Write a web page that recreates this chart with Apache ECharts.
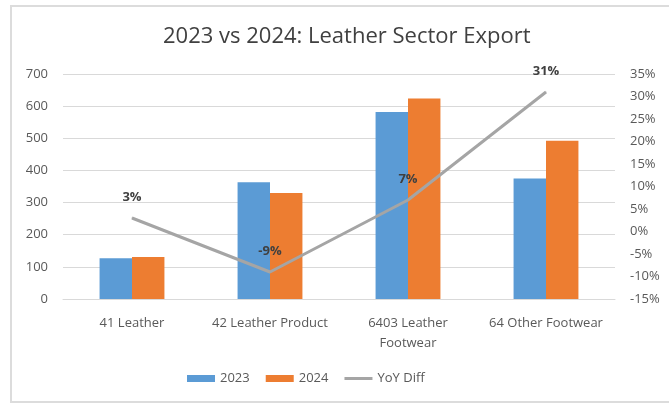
<!DOCTYPE html>
<html>
<head>
<meta charset="utf-8">
<script src="https://cdn.jsdelivr.net/npm/echarts@6/dist/echarts.min.js"></script>
<style>
  html, body { margin: 0; padding: 0; background: #ffffff; }
  #chart { width: 669px; height: 405px; }
</style>
</head>
<body>
<div id="chart"></div>
<script>
// Export values by product group (two years) and the year-on-year change in percent
const categories = ['41 Leather', '42 Leather Product', '6403 Leather\nFootwear', '64 Other Footwear'];
const exports2023 = [127, 363, 582, 375];
const exports2024 = [131, 330, 624, 492];
const yoyDiff = [3, -9, 7, 31];
const leftTicks = { min: 0, max: 700, interval: 100 };
const rightTicks = { min: -15, max: 35, interval: 5 };

const textColor = '#595959';
const font = 'Open Sans';

const chart = echarts.init(document.getElementById('chart'), null, { renderer: 'canvas' });

chart.setOption({
  backgroundColor: '#ffffff',
  animation: false,
  title: {
    text: '2023 vs 2024: Leather Sector Export',
    left: 158,
    top: 21,
    textStyle: { fontFamily: font, fontSize: 22, fontWeight: 'normal', color: '#404040' }
  },
  graphic: [{
    type: 'rect',
    shape: { x: 11, y: 6, width: 700, height: 396 },
    style: { fill: 'none', stroke: '#dcdcdc', lineWidth: 2 },
    silent: true,
    z: -1
  }],
  legend: {
    bottom: 15,
    left: 182,
    itemGap: 16,
    itemWidth: 28,
    itemHeight: 7,
    textStyle: { fontFamily: font, fontSize: 13, color: textColor },
    data: [
      { name: '2023', icon: 'rect' },
      { name: '2024', icon: 'rect' },
      { name: 'YoY Diff', icon: 'path://M0,0 L28,0 L28,3 L0,3 Z' }
    ]
  },
  grid: { left: 63, right: 54, top: 74, bottom: 106, containLabel: false },
  xAxis: {
    type: 'category',
    data: categories,
    axisTick: { show: false },
    axisLine: { show: true, lineStyle: { color: '#d9d9d9', width: 1 } },
    axisLabel: {
      fontFamily: font, fontSize: 13, color: textColor,
      margin: 14, lineHeight: 20, interval: 0
    }
  },
  yAxis: [
    {
      type: 'value',
      min: leftTicks.min, max: leftTicks.max, interval: leftTicks.interval,
      axisLine: { show: false },
      axisTick: { show: false },
      splitLine: { lineStyle: { color: '#d9d9d9', width: 1 } },
      axisLabel: { fontFamily: font, fontSize: 13, color: textColor, margin: 15 }
    },
    {
      type: 'value',
      min: rightTicks.min, max: rightTicks.max, interval: rightTicks.interval,
      axisLine: { show: false },
      axisTick: { show: false },
      splitLine: { show: false },
      axisLabel: { fontFamily: font, fontSize: 13, color: textColor, margin: 15, formatter: '{value}%' }
    }
  ],
  series: [
    {
      name: '2023',
      type: 'bar',
      data: exports2023,
      itemStyle: { color: '#5B9BD5' },
      barGap: '0%',
      barCategoryGap: '53%'
    },
    {
      name: '2024',
      type: 'bar',
      data: exports2024,
      itemStyle: { color: '#ED7D31' }
    },
    {
      name: 'YoY Diff',
      type: 'line',
      yAxisIndex: 1,
      data: yoyDiff,
      symbol: 'circle',
      symbolSize: 1,
      showSymbol: true,
      lineStyle: { color: '#A5A5A5', width: 3 },
      itemStyle: { color: '#A5A5A5' },
      label: {
        show: true,
        position: 'top',
        distance: 14,
        formatter: '{c}%',
        fontFamily: font,
        fontSize: 13,
        fontWeight: 'bold',
        color: '#404040'
      },
      z: 5
    }
  ]
});
</script>
</body>
</html>
